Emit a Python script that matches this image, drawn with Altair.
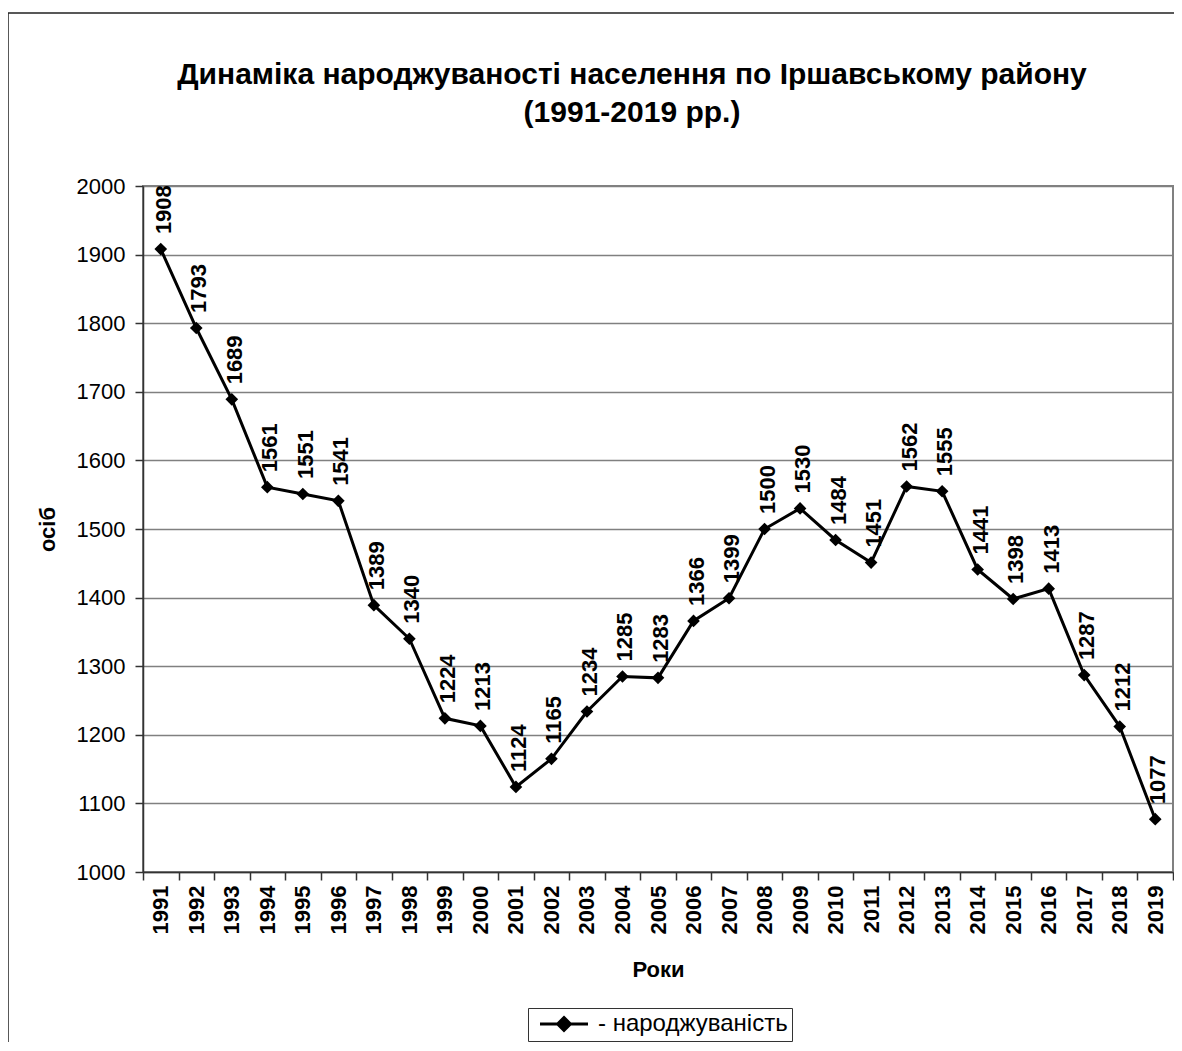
import altair as alt
import pandas as pd

years = list(range(1991, 2020))
births = [1908, 1793, 1689, 1561, 1551, 1541, 1389, 1340, 1224, 1213,
          1124, 1165, 1234, 1285, 1283, 1366, 1399, 1500, 1530, 1484,
          1451, 1562, 1555, 1441, 1398, 1413, 1287, 1212, 1077]
series_name = "- народжуваність"
title_lines = ["Динаміка народжуваності населення по Іршавському району",
               "(1991-2019 рр.)"]
x_title = "Роки"
y_title = "осіб"
y_ticks = list(range(1000, 2001, 100))

df = pd.DataFrame({"year": [str(y) for y in years],
                   "births": births,
                   "series": series_name})

FONT = "Liberation Sans"
W, H = 1030, 686
PAD_TOP = 178
PAD_LEFT = 135

x_enc = alt.X(
    "year:O",
    scale=alt.Scale(type="band", paddingInner=0, paddingOuter=0),
    bandPosition=0.5,
    axis=alt.Axis(
        title=x_title, tickBand="extent", labelAngle=270, labelAlign="right",
        labelBaseline="middle", labelFontWeight="bold", labelFontSize=22,
        labelPadding=5, tickSize=8, titleFontSize=22, titleFontWeight="bold",
        titleX=W / 2, titleY=97, titleBaseline="middle", titleAlign="center",
        grid=False, domainColor="#333333", tickColor="#333333",
        domainWidth=1.5, tickWidth=1.5,
    ),
)
y_enc = alt.Y(
    "births:Q",
    scale=alt.Scale(domain=[1000, 2000], nice=False, zero=False),
    axis=alt.Axis(
        values=y_ticks, format="d", title=y_title, labelFontSize=22, labelPadding=10,
        tickSize=8, grid=True, gridColor="#808080", gridWidth=1.5,
        titleX=-96, titleY=H / 2, titleAngle=270, titleAlign="center",
        titleBaseline="middle", titleFontSize=22, titleFontWeight="bold",
        domainColor="#333333", tickColor="#333333", domainWidth=1.5, tickWidth=1.5,
    ),
)

base = alt.Chart(df).encode(x=x_enc, y=y_enc)

frame = alt.Chart(pd.DataFrame({"a": [0]})).mark_rect(
    fill="transparent", stroke="#222222", strokeWidth=1.5
).encode(
    x=alt.value(-PAD_LEFT), x2=alt.value(W + 30),
    y=alt.value(-(PAD_TOP - 5)), y2=alt.value(H + 250),
)

line = base.mark_line(strokeWidth=3).encode(
    color=alt.Color(
        "series:N",
        scale=alt.Scale(range=["black"]),
        legend=alt.Legend(
            title=None, orient="none", legendX=385, legendY=822,
            strokeColor="#333333", fillColor="white", padding=4,
            symbolType="M-3,0L3,0M0,-0.8L0.8,0L0,0.8L-0.8,0Z",
            symbolSize=256, symbolStrokeWidth=3, symbolOffset=20,
            symbolFillColor="black", symbolStrokeColor="black",
            labelFontSize=24, labelFont=FONT, labelColor="black",
            labelOffset=22, labelLimit=400,
        ),
    )
)
points = base.mark_point(shape="diamond", filled=True, size=160,
                         color="black", opacity=1)
labels = base.mark_text(angle=270, align="left", baseline="middle", dx=15, dy=3,
                        fontWeight="bold", fontSize=22, font=FONT,
                        color="black").encode(text="births:Q")

chart = alt.layer(frame, line, points, labels).properties(
    width=W, height=H,
    autosize=alt.AutoSizeParams(type="none"),
    padding={"left": PAD_LEFT, "top": PAD_TOP, "right": 1, "bottom": 170},
    title=alt.TitleParams(
        text=title_lines, fontSize=30, font=FONT, fontWeight="bold",
        anchor="middle", dx=-26, offset=-116, lineHeight=38, color="black",
    ),
).configure_view(
    stroke="#808080", strokeWidth=2
).configure_axis(
    labelFont=FONT, titleFont=FONT, labelColor="black", titleColor="black"
)

chart.save("out.html", embed_options={"renderer": "svg", "actions": False})
